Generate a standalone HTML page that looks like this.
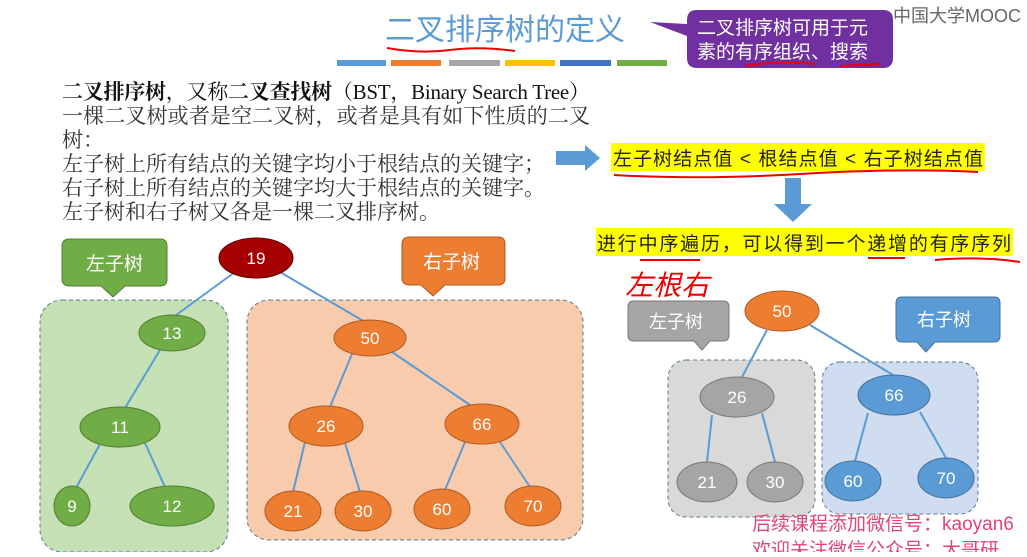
<!DOCTYPE html>
<html><head><meta charset="utf-8"><style>
body{margin:0;width:1027px;height:552px;overflow:hidden;background:#fff;font-family:"Liberation Sans","Noto Sans CJK SC",sans-serif}
svg text{font-family:"Liberation Sans","Noto Sans CJK SC",sans-serif}
.s{font-family:"Liberation Serif","Noto Serif CJK SC",serif}
</style></head><body>
<svg width="1027" height="552" viewBox="0 0 1027 552" xmlns="http://www.w3.org/2000/svg">
<text x="385" y="40" font-size="30" fill="#5b9bd5">二叉排序树的定义</text>
<path d="M387 48 Q420 54 450 50 T515 51" stroke="#e00" stroke-width="2" fill="none"/>
<rect x="337" y="60" width="49" height="6" fill="#5b9bd5"/>
<rect x="391" y="60" width="50" height="6" fill="#ed7d31"/>
<rect x="449" y="60" width="51" height="6" fill="#a5a5a5"/>
<rect x="505" y="60" width="50" height="6" fill="#ffc000"/>
<rect x="560" y="60" width="51" height="6" fill="#4472c4"/>
<rect x="617" y="60" width="50" height="6" fill="#70ad47"/>
<path d="M697 10 H883 Q893 10 893 20 V58 Q893 68 883 68 H697 Q687 68 687 58 V36 L650 22 L687 24 V20 Q687 10 697 10Z" fill="#7030a0"/>
<text x="697" y="34" font-size="19" fill="#fff">二叉排序树可用于元</text>
<text x="697" y="58" font-size="19" fill="#fff">素的有序组织、搜索</text>
<path d="M745 66 Q780 60 815 64 M840 66 L880 64" stroke="#e00" stroke-width="2" fill="none"/>
<text x="893" y="22" font-size="18" fill="#666">中国大学MOOC</text>
<g class="s" font-size="21" fill="#333">
<text x="62" y="99" font-weight="bold" fill="#111" class="s" textLength="528">二叉排序树<tspan font-weight="normal">，又称</tspan>二叉查找树<tspan font-weight="normal">（BST，Binary Search Tree）</tspan></text>
<text x="62" y="123" class="s" textLength="528">一棵二叉树或者是空二叉树，或者是具有如下性质的二叉</text>
<text x="62" y="147" class="s">树：</text>
<text x="62" y="171" class="s">左子树上所有结点的关键字均小于根结点的关键字；</text>
<text x="62" y="195" class="s">右子树上所有结点的关键字均大于根结点的关键字。</text>
<text x="62" y="219" class="s">左子树和右子树又各是一棵二叉排序树。</text>
</g>
<path d="M556 151 H585 V145 L600 158 L585 171 V165 H556Z" fill="#5b9bd5"/>
<rect x="611" y="143" width="374" height="28" fill="#ffff00"/>
<text x="613" y="165" font-size="19" fill="#222" textLength="370">左子树结点值 &lt; 根结点值 &lt; 右子树结点值</text>
<path d="M614 175 Q700 180 800 174 T978 172" stroke="#e00" stroke-width="2" fill="none"/>
<path d="M785 178 H801 V204 H812 L793 222 L774 204 H785Z" fill="#5b9bd5"/>
<rect x="596" y="228" width="417" height="28" fill="#ffff00"/>
<text x="597" y="250" font-size="19" fill="#222" textLength="414">进行中序遍历，可以得到一个递增的有序序列</text>
<path d="M640 260 H700 M868 258 H905 M935 260 Q980 256 1020 262" stroke="#e00" stroke-width="2" fill="none"/>
<text x="625" y="295" font-size="28" fill="#e00" font-style="italic">左根右</text>
<rect x="40" y="300" width="188" height="252" rx="22" fill="#c5e0b4" stroke="#5a7a8a" stroke-dasharray="4,3"/>
<rect x="247" y="300" width="336" height="240" rx="22" fill="#f8cbad" stroke="#5a7a8a" stroke-dasharray="4,3"/>
<path d="M70 239 H160 Q167 239 167 246 V279 Q167 286 160 286 H125 L113 297 L101 286 H70 Q62 286 62 279 V246 Q62 239 70 239Z" fill="#70ad47" stroke="#507e32"/>
<text x="86" y="270" font-size="19" fill="#fff">左子树</text>
<path d="M410 237 H498 Q505 237 505 244 V278 Q505 285 498 285 H445 L433 296 L421 285 H410 Q402 285 402 278 V244 Q402 237 410 237Z" fill="#ed7d31" stroke="#ae5a21"/>
<text x="423" y="268" font-size="19" fill="#fff">右子树</text>
<rect x="668" y="360" width="147" height="157" rx="18" fill="#d9d9d9" stroke="#5a7a8a" stroke-dasharray="4,3"/>
<rect x="822" y="362" width="156" height="152" rx="18" fill="#d0dcef" stroke="#5a7a8a" stroke-dasharray="4,3"/>
<path d="M634 301 H723 Q729 301 729 307 V335 Q729 341 723 341 H710 L702 350 L694 341 H634 Q628 341 628 335 V307 Q628 301 634 301Z" fill="#a5a5a5" stroke="#777"/>
<text x="649" y="328" font-size="18" fill="#fff">左子树</text>
<path d="M902 297 H994 Q1000 297 1000 303 V336 Q1000 342 994 342 H935 L926 352 L917 342 H902 Q896 342 896 336 V303 Q896 297 902 297Z" fill="#5b9bd5" stroke="#41719c"/>
<text x="917" y="326" font-size="18" fill="#fff">右子树</text>
<g stroke="#5b9bd5" stroke-width="2">
<line x1="235" y1="272" x2="172" y2="318"/><line x1="280" y1="272" x2="365" y2="322"/>
<line x1="160" y1="350" x2="125" y2="408"/><line x1="100" y1="444" x2="76" y2="488"/><line x1="145" y1="443" x2="165" y2="487"/>
<line x1="352" y1="354" x2="330" y2="407"/><line x1="392" y1="352" x2="470" y2="405"/>
<line x1="305" y1="442" x2="293" y2="492"/><line x1="345" y1="443" x2="360" y2="492"/>
<line x1="465" y1="442" x2="445" y2="490"/><line x1="500" y1="442" x2="530" y2="487"/>
<line x1="767" y1="330" x2="742" y2="377"/><line x1="810" y1="325" x2="893" y2="375"/>
<line x1="712" y1="415" x2="707" y2="462"/><line x1="762" y1="413" x2="775" y2="462"/>
<line x1="868" y1="413" x2="855" y2="461"/><line x1="920" y1="412" x2="946" y2="458"/>
</g>
<g font-size="17" fill="#fff" text-anchor="middle">
<ellipse cx="256" cy="258" rx="37" ry="20" fill="#a50000" stroke="#600"/><text x="256" y="264">19</text>
<g fill="#70ad47" stroke="#507e32">
<ellipse cx="172" cy="333" rx="33" ry="18"/><ellipse cx="120" cy="427" rx="40" ry="20"/><ellipse cx="72" cy="506" rx="18" ry="20"/><ellipse cx="172" cy="506" rx="42" ry="20"/></g>
<text x="172" y="339">13</text><text x="120" y="433">11</text><text x="72" y="512">9</text><text x="172" y="512">12</text>
<g fill="#ed7d31" stroke="#ae5a21">
<ellipse cx="370" cy="338" rx="36" ry="18"/><ellipse cx="326" cy="426" rx="37" ry="20"/><ellipse cx="482" cy="424" rx="37" ry="20"/><ellipse cx="293" cy="511" rx="28" ry="20"/><ellipse cx="363" cy="511" rx="28" ry="20"/><ellipse cx="442" cy="509" rx="28" ry="20"/><ellipse cx="533" cy="506" rx="28" ry="20"/></g>
<text x="370" y="344">50</text><text x="326" y="432">26</text><text x="482" y="430">66</text><text x="293" y="517">21</text><text x="363" y="517">30</text><text x="442" y="515">60</text><text x="533" y="512">70</text>
<ellipse cx="782" cy="311" rx="37" ry="20" fill="#ed7d31" stroke="#ae5a21"/><text x="782" y="317">50</text>
<g fill="#a5a5a5" stroke="#777"><ellipse cx="737" cy="397" rx="37" ry="20"/><ellipse cx="707" cy="482" rx="30" ry="20"/><ellipse cx="775" cy="482" rx="28" ry="20"/></g>
<text x="737" y="403">26</text><text x="707" y="488">21</text><text x="775" y="488">30</text>
<g fill="#5b9bd5" stroke="#41719c"><ellipse cx="894" cy="395" rx="36" ry="20"/><ellipse cx="853" cy="481" rx="28" ry="20"/><ellipse cx="946" cy="478" rx="28" ry="20"/></g>
<text x="894" y="401">66</text><text x="853" y="487">60</text><text x="946" y="484">70</text>
</g>
<text x="752" y="530" font-size="19" fill="#e0457a">后续课程添加微信号：kaoyan6</text>
<text x="752" y="556" font-size="19" fill="#e0457a">欢迎关注微信公众号：大哥研</text>
</svg>
</body></html>
